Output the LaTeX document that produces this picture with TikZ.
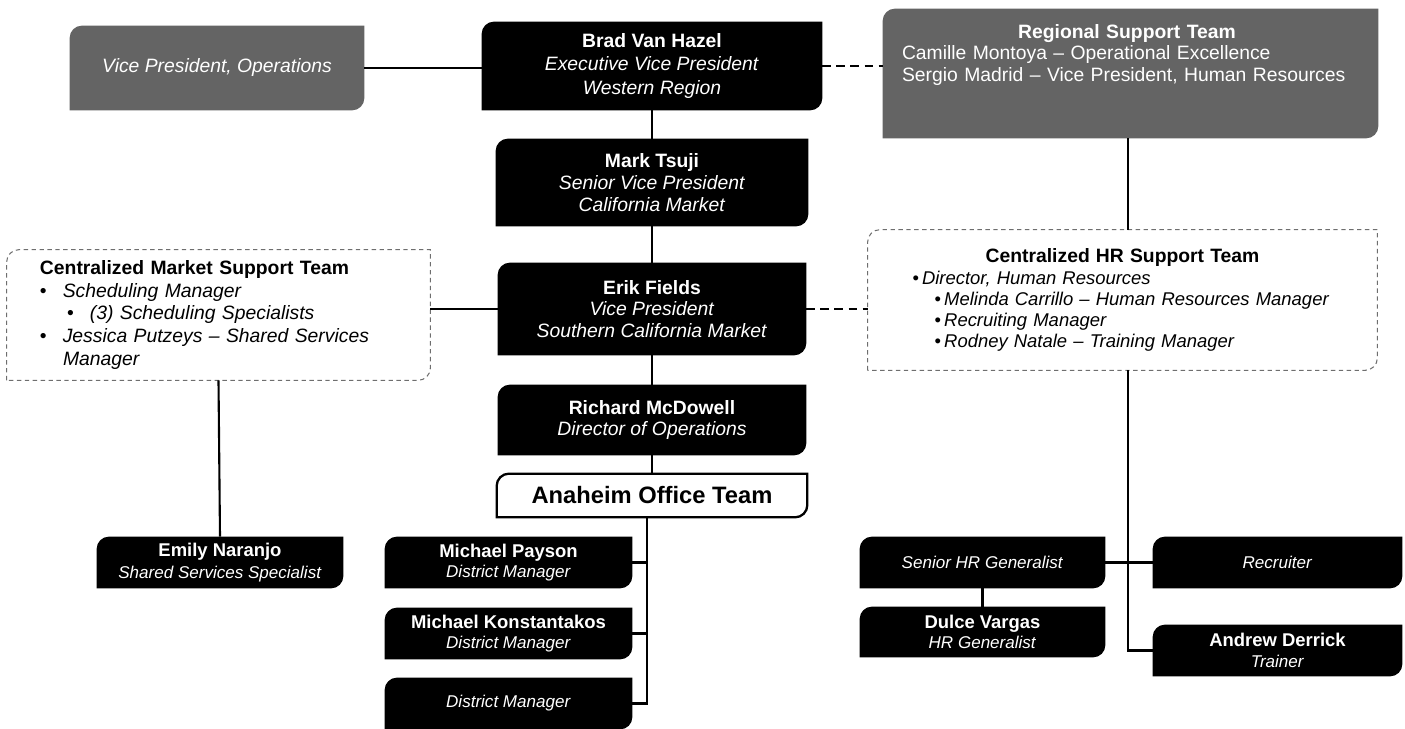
\documentclass[tikz,border=0pt]{standalone}
\usepackage{fontspec}
\setmainfont{Liberation Sans}
\usetikzlibrary{backgrounds}
\definecolor{grayfill}{RGB}{100,100,100}
\definecolor{dashgray}{RGB}{110,110,110}
\newlength\rr
\setlength\rr{7pt}
\newcommand\diagshape[2]{\path[#2] (#1.south west) -- ([yshift=-\rr]#1.north west) arc[start angle=180,end angle=90,radius=\rr] -- (#1.north east) -- ([yshift=\rr]#1.south east) arc[start angle=0,end angle=-90,radius=\rr] -- cycle;}
\tikzset{
  blk/.style={inner sep=0pt, align=center, text=white, font=\fontsize{11}{12.3}\selectfont},
  sblk/.style={inner sep=0pt, align=center, text=white, font=\fontsize{9.7}{11.6}\selectfont},
  supp/.style={inner sep=0pt, align=left, text=black, font=\fontsize{11}{13}\selectfont},
  conn/.style={line width=1.2pt, black},
  dashconn/.style={line width=1.2pt, black, dash pattern=on 5pt off 3pt},
  blackfill/.style={fill=black},
  grayboxfill/.style={fill=grayfill},
  dashbox/.style={draw=dashgray, line width=0.6pt, dash pattern=on 2.5pt off 2pt},
  whitebox/.style={draw=black, fill=white, line width=1.3pt}
}
\newcommand\nm[1]{{\fontsize{10.5}{11.6}\selectfont\bfseries #1}}
\begin{document}
\begin{tikzpicture}[x=1cm,y=1cm]
\useasboundingbox (0,0) rectangle (28.1,-14.58);
% top row
\node[blk, minimum width=5.88cm, minimum height=1.68cm] (vpops) at (4.34,-1.36) {\textit{Vice President, Operations}};
\node[blk, minimum width=6.8cm, minimum height=1.76cm, font=\fontsize{11}{13.6}\selectfont] (brad) at (13.04,-1.32) {\textbf{Brad Van Hazel}\\\textit{Executive Vice President}\\\textit{Western Region}};
\node[inner sep=0pt, minimum width=9.9cm, minimum height=2.58cm] (regional) at (22.61,-1.47) {};
\node[inner sep=0pt, text=white, align=left, text width=9.0cm, font=\fontsize{11}{12}\selectfont] (regionaltxt) at (22.54,-1.1) {\makebox[\hsize][c]{\textbf{Regional Support Team}}\\Camille Montoya -- Operational Excellence\\Sergio Madrid -- Vice President, Human Resources};
% central column
\node[blk, minimum width=6.24cm, minimum height=1.74cm] (mark) at (13.04,-3.65) {\textbf{Mark Tsuji}\\\textit{Senior Vice President}\\\textit{California Market}};
\node[blk, minimum width=6.16cm, minimum height=1.84cm] (erik) at (13.04,-6.18) {\textbf{Erik Fields}\\\textit{Vice President}\\\textit{Southern California Market}};
\node[blk, minimum width=6.16cm, minimum height=1.4cm, font=\fontsize{11}{11.6}\selectfont] (richard) at (13.04,-8.4) {\textbf{Richard McDowell}\\\textit{Director of Operations}};
\node[blk, text=black, minimum width=6.2cm, minimum height=0.86cm, font=\fontsize{13.5}{15}\selectfont\bfseries] (anaheim) at (13.04,-9.91) {Anaheim Office Team};
% support boxes
\node[supp, minimum width=8.46cm, minimum height=2.6cm, text width=7.14cm] (market) at (4.37,-6.3) {\textbf{Centralized Market Support Team}\\
\textbullet\hspace{0.83em}\textit{Scheduling Manager}\\
\hspace*{1.4em}\textbullet\hspace{0.83em}\textit{(3) Scheduling Specialists}\\
\textbullet\hspace{0.83em}\textit{Jessica Putzeys -- Shared Services}\\
\hspace*{1.19em}\textit{Manager}};
\node[supp, minimum width=10.18cm, minimum height=2.8cm, text width=8.4cm, font=\fontsize{10.5}{12}\selectfont] (hr) at (22.45,-6.0) {\makebox[\hsize][c]{\fontsize{11}{12}\selectfont\textbf{Centralized HR Support Team}}\\
\textbullet\,\textit{Director, Human Resources}\\
\hspace*{1.2em}\textbullet\,\textit{Melinda Carrillo -- Human Resources Manager}\\
\hspace*{1.2em}\textbullet\,\textit{Recruiting Manager}\\
\hspace*{1.2em}\textbullet\,\textit{Rodney Natale -- Training Manager}};
% bottom row
\node[sblk, minimum width=4.92cm, minimum height=1.02cm, font=\fontsize{9.7}{12.3}\selectfont] (emily) at (4.4,-11.25) {\nm{Emily Naranjo}\\\textit{Shared Services Specialist}};
\node[sblk, minimum width=4.94cm, minimum height=1.02cm] (payson) at (10.17,-11.25) {\nm{Michael Payson}\\\textit{District Manager}};
\node[sblk, minimum width=4.94cm, minimum height=1.02cm] (konst) at (10.17,-12.67) {\nm{Michael Konstantakos}\\\textit{District Manager}};
\node[sblk, minimum width=4.94cm, minimum height=1.02cm] (dm3) at (10.17,-14.07) {\textit{District Manager}};
\node[sblk, minimum width=4.9cm, minimum height=1.02cm] (srhr) at (19.65,-11.25) {\textit{Senior HR Generalist}};
\node[sblk, minimum width=4.98cm, minimum height=1.02cm] (recruiter) at (25.55,-11.25) {\textit{Recruiter}};
\node[sblk, minimum width=4.9cm, minimum height=1.0cm] (dulce) at (19.65,-12.64) {\nm{Dulce Vargas}\\\textit{HR Generalist}};
\node[sblk, minimum width=4.98cm, minimum height=1.02cm] (andrew) at (25.55,-13.01) {\nm{Andrew Derrick}\\\textit{Trainer}};
% box shapes
\begin{scope}[on background layer]
\diagshape{vpops}{grayboxfill}
\diagshape{regional}{grayboxfill}
\foreach \n in {brad,mark,erik,richard,emily,payson,konst,dm3,srhr,recruiter,dulce,andrew}{\diagshape{\n}{blackfill}}
\diagshape{anaheim}{whitebox}
\diagshape{market}{dashbox}
\diagshape{hr}{dashbox}
\end{scope}
% connectors
\coordinate (hrx) at (22.56,0);
\coordinate (dmx) at (12.94,0);
\draw[conn] (vpops.east) -- (vpops.east -| brad.west);
\draw[dashconn] (brad.east) -- (brad.east -| regional.west);
\draw[conn] (brad.south) -- (mark.north);
\draw[conn] (mark.south) -- (erik.north);
\draw[conn] (erik.south) -- (richard.north);
\draw[conn] (richard.south) -- (anaheim.north);
\draw[conn] (erik.west -| market.east) -- (erik.west);
\draw[dashconn] (erik.east) -- (erik.east -| hr.west);
\draw[conn] (regional.south -| hrx) -- (hr.north -| hrx);
\draw[conn] (market.south) -- (emily.north);
\draw[conn] (anaheim.south -| dmx) -- (dm3.east -| dmx) -- (dm3.east);
\draw[conn] (payson.east) -- (payson.east -| dmx);
\draw[conn] (konst.east) -- (konst.east -| dmx);
\draw[conn] (hr.south -| hrx) -- (andrew.west -| hrx) -- (andrew.west);
\draw[conn] (srhr.east) -- (recruiter.west);
\draw[conn] (srhr.south) -- (dulce.north);
\end{tikzpicture}
\end{document}
